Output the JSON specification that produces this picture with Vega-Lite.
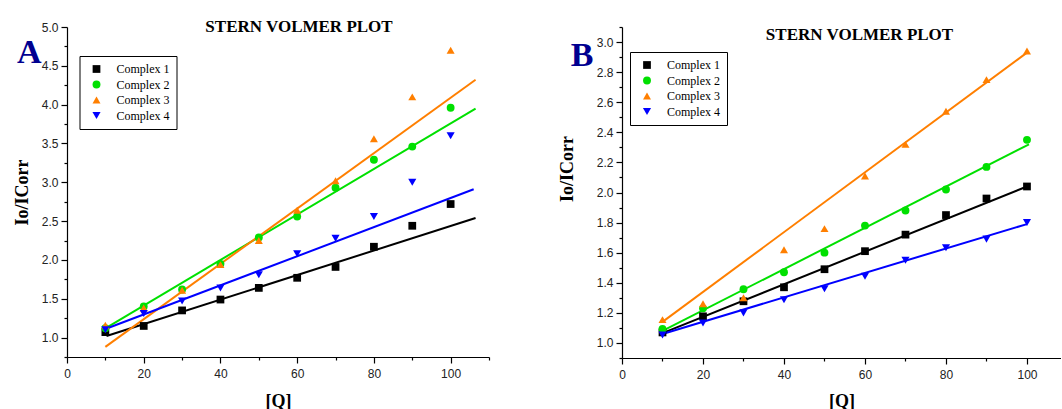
{
  "$schema": "https://vega.github.io/schema/vega-lite/v6.json",
  "padding": {"left": 13, "top": 18, "right": 0, "bottom": 0},
  "bounds": "flush",
  "spacing": 133,
  "background": "white",
  "resolve": {"scale": {"color": "independent", "shape": "independent", "size": "independent"}, "legend": {"color": "independent", "shape": "independent", "size": "independent"}},
  "config": {
    "view": {"stroke": null},
    "axis": {
      "grid": false,
      "labelFlush": false,
      "labelOverlap": false,
      "domainColor": "black",
      "domainWidth": 1.2,
      "tickColor": "black",
      "tickWidth": 1.2,
      "labelFont": "Liberation Sans",
      "labelFontSize": 12,
      "labelColor": "#222222",
      "titleFont": "Liberation Serif",
      "titleFontWeight": "bold",
      "titleColor": "black"
    },
    "legend": {
      "strokeColor": "black",
      "strokeWidth": 1,
      "fillColor": "white",
      "padding": 7,
      "labelFont": "Liberation Serif",
      "labelFontSize": 12,
      "labelColor": "black",
      "rowPadding": 3.5,
      "labelOffset": 14,
      "symbolOffset": 4
    },
    "title": {
      "font": "Liberation Serif",
      "fontSize": 17,
      "fontWeight": "bold",
      "color": "black",
      "anchor": "middle",
      "baseline": "alphabetic"
    }
  },
  "datasets": {
    "a_pts": [
      {"Q": 10, "ratio": 1.07, "complex": "Complex 1"},
      {"Q": 20, "ratio": 1.15, "complex": "Complex 1"},
      {"Q": 30, "ratio": 1.35, "complex": "Complex 1"},
      {"Q": 40, "ratio": 1.49, "complex": "Complex 1"},
      {"Q": 50, "ratio": 1.64, "complex": "Complex 1"},
      {"Q": 60, "ratio": 1.77, "complex": "Complex 1"},
      {"Q": 70, "ratio": 1.91, "complex": "Complex 1"},
      {"Q": 80, "ratio": 2.17, "complex": "Complex 1"},
      {"Q": 90, "ratio": 2.44, "complex": "Complex 1"},
      {"Q": 100, "ratio": 2.72, "complex": "Complex 1"},
      {"Q": 10, "ratio": 1.12, "complex": "Complex 2"},
      {"Q": 20, "ratio": 1.4, "complex": "Complex 2"},
      {"Q": 30, "ratio": 1.62, "complex": "Complex 2"},
      {"Q": 40, "ratio": 1.95, "complex": "Complex 2"},
      {"Q": 50, "ratio": 2.29, "complex": "Complex 2"},
      {"Q": 60, "ratio": 2.56, "complex": "Complex 2"},
      {"Q": 70, "ratio": 2.93, "complex": "Complex 2"},
      {"Q": 80, "ratio": 3.29, "complex": "Complex 2"},
      {"Q": 90, "ratio": 3.46, "complex": "Complex 2"},
      {"Q": 100, "ratio": 3.96, "complex": "Complex 2"},
      {"Q": 10, "ratio": 1.16, "complex": "Complex 3"},
      {"Q": 20, "ratio": 1.38, "complex": "Complex 3"},
      {"Q": 30, "ratio": 1.61, "complex": "Complex 3"},
      {"Q": 40, "ratio": 1.94, "complex": "Complex 3"},
      {"Q": 50, "ratio": 2.25, "complex": "Complex 3"},
      {"Q": 60, "ratio": 2.64, "complex": "Complex 3"},
      {"Q": 70, "ratio": 3.02, "complex": "Complex 3"},
      {"Q": 80, "ratio": 3.56, "complex": "Complex 3"},
      {"Q": 90, "ratio": 4.1, "complex": "Complex 3"},
      {"Q": 100, "ratio": 4.7, "complex": "Complex 3"},
      {"Q": 10, "ratio": 1.1, "complex": "Complex 4"},
      {"Q": 20, "ratio": 1.31, "complex": "Complex 4"},
      {"Q": 30, "ratio": 1.47, "complex": "Complex 4"},
      {"Q": 40, "ratio": 1.64, "complex": "Complex 4"},
      {"Q": 50, "ratio": 1.81, "complex": "Complex 4"},
      {"Q": 60, "ratio": 2.08, "complex": "Complex 4"},
      {"Q": 70, "ratio": 2.28, "complex": "Complex 4"},
      {"Q": 80, "ratio": 2.56, "complex": "Complex 4"},
      {"Q": 90, "ratio": 3.0, "complex": "Complex 4"},
      {"Q": 100, "ratio": 3.6, "complex": "Complex 4"}
    ],
    "a_fit": [
      {"Q": 10.3, "ratio": 1.02, "complex": "Complex 1"},
      {"Q": 106.5, "ratio": 2.54, "complex": "Complex 1"},
      {"Q": 10, "ratio": 1.12, "complex": "Complex 2"},
      {"Q": 106.5, "ratio": 3.95, "complex": "Complex 2"},
      {"Q": 10, "ratio": 0.88, "complex": "Complex 3"},
      {"Q": 106.5, "ratio": 4.32, "complex": "Complex 3"},
      {"Q": 10, "ratio": 1.11, "complex": "Complex 4"},
      {"Q": 106, "ratio": 2.91, "complex": "Complex 4"}
    ],
    "b_pts": [
      {"Q": 10, "ratio": 1.07, "complex": "Complex 1"},
      {"Q": 20, "ratio": 1.177, "complex": "Complex 1"},
      {"Q": 30, "ratio": 1.277, "complex": "Complex 1"},
      {"Q": 40, "ratio": 1.37, "complex": "Complex 1"},
      {"Q": 50, "ratio": 1.49, "complex": "Complex 1"},
      {"Q": 60, "ratio": 1.61, "complex": "Complex 1"},
      {"Q": 70, "ratio": 1.72, "complex": "Complex 1"},
      {"Q": 80, "ratio": 1.85, "complex": "Complex 1"},
      {"Q": 90, "ratio": 1.96, "complex": "Complex 1"},
      {"Q": 100, "ratio": 2.04, "complex": "Complex 1"},
      {"Q": 10, "ratio": 1.093, "complex": "Complex 2"},
      {"Q": 20, "ratio": 1.23, "complex": "Complex 2"},
      {"Q": 30, "ratio": 1.357, "complex": "Complex 2"},
      {"Q": 40, "ratio": 1.47, "complex": "Complex 2"},
      {"Q": 50, "ratio": 1.6, "complex": "Complex 2"},
      {"Q": 60, "ratio": 1.78, "complex": "Complex 2"},
      {"Q": 70, "ratio": 1.88, "complex": "Complex 2"},
      {"Q": 80, "ratio": 2.02, "complex": "Complex 2"},
      {"Q": 90, "ratio": 2.17, "complex": "Complex 2"},
      {"Q": 100, "ratio": 2.35, "complex": "Complex 2"},
      {"Q": 10, "ratio": 1.155, "complex": "Complex 3"},
      {"Q": 20, "ratio": 1.26, "complex": "Complex 3"},
      {"Q": 30, "ratio": 1.3, "complex": "Complex 3"},
      {"Q": 40, "ratio": 1.62, "complex": "Complex 3"},
      {"Q": 50, "ratio": 1.76, "complex": "Complex 3"},
      {"Q": 60, "ratio": 2.11, "complex": "Complex 3"},
      {"Q": 70, "ratio": 2.32, "complex": "Complex 3"},
      {"Q": 80, "ratio": 2.54, "complex": "Complex 3"},
      {"Q": 90, "ratio": 2.75, "complex": "Complex 3"},
      {"Q": 100, "ratio": 2.94, "complex": "Complex 3"},
      {"Q": 10, "ratio": 1.053, "complex": "Complex 4"},
      {"Q": 20, "ratio": 1.133, "complex": "Complex 4"},
      {"Q": 30, "ratio": 1.2, "complex": "Complex 4"},
      {"Q": 40, "ratio": 1.287, "complex": "Complex 4"},
      {"Q": 50, "ratio": 1.36, "complex": "Complex 4"},
      {"Q": 60, "ratio": 1.444, "complex": "Complex 4"},
      {"Q": 70, "ratio": 1.55, "complex": "Complex 4"},
      {"Q": 80, "ratio": 1.633, "complex": "Complex 4"},
      {"Q": 90, "ratio": 1.69, "complex": "Complex 4"},
      {"Q": 100, "ratio": 1.8, "complex": "Complex 4"}
    ],
    "b_fit": [
      {"Q": 10, "ratio": 1.065, "complex": "Complex 1"},
      {"Q": 100, "ratio": 2.04, "complex": "Complex 1"},
      {"Q": 10, "ratio": 1.08, "complex": "Complex 2"},
      {"Q": 100.5, "ratio": 2.32, "complex": "Complex 2"},
      {"Q": 10, "ratio": 1.14, "complex": "Complex 3"},
      {"Q": 100, "ratio": 2.93, "complex": "Complex 3"},
      {"Q": 10, "ratio": 1.06, "complex": "Complex 4"},
      {"Q": 100, "ratio": 1.79, "complex": "Complex 4"}
    ],
    "label_a": [{"label": "A"}],
    "label_b": [{"label": "B"}]
  },
  "hconcat": [
    {
      "width": 422,
      "height": 330,
      "title": {"text": "STERN VOLMER PLOT", "dx": 21, "offset": -15.4},
      "resolve": {"axis": {"x": "independent", "y": "independent"}},
      "layer": [
        {
          "data": {"name": "a_fit"},
          "transform": [{"filter": "datum.complex === 'Complex 1'"}],
          "mark": {"type": "line", "strokeWidth": 2, "color": "#000000"},
          "encoding": {
            "x": {"field": "Q", "type": "quantitative", "scale": {"domain": [0, 110], "nice": false, "zero": false},
              "axis": {"orient": "bottom", "values": [10, 30, 50, 70, 90, 110], "labels": false, "domain": false, "tickSize": 3, "title": null}},
            "y": {"field": "ratio", "type": "quantitative", "scale": {"domain": [0.75, 5.0], "nice": false, "zero": false},
              "axis": {"orient": "left", "values": [0.75, 1.25, 1.75, 2.25, 2.75, 3.25, 3.75, 4.25, 4.75], "labels": false, "domain": false, "tickSize": 3, "title": null}}
          }
        },
        {
          "data": {"name": "a_fit"},
          "transform": [{"filter": "datum.complex === 'Complex 2'"}],
          "mark": {"type": "line", "strokeWidth": 2, "color": "#00E000"},
          "encoding": {
            "x": {"field": "Q", "type": "quantitative", "axis": null},
            "y": {"field": "ratio", "type": "quantitative", "axis": null}
          }
        },
        {
          "data": {"name": "a_fit"},
          "transform": [{"filter": "datum.complex === 'Complex 3'"}],
          "mark": {"type": "line", "strokeWidth": 2, "color": "#FF7F00"},
          "encoding": {
            "x": {"field": "Q", "type": "quantitative", "axis": null},
            "y": {"field": "ratio", "type": "quantitative", "axis": null}
          }
        },
        {
          "data": {"name": "a_fit"},
          "transform": [{"filter": "datum.complex === 'Complex 4'"}],
          "mark": {"type": "line", "strokeWidth": 2, "color": "#0000FF"},
          "encoding": {
            "x": {"field": "Q", "type": "quantitative", "axis": null},
            "y": {"field": "ratio", "type": "quantitative", "axis": null}
          }
        },
        {
          "data": {"name": "a_pts"},
          "mark": {"type": "point", "filled": true, "opacity": 1},
          "encoding": {
            "x": {"field": "Q", "type": "quantitative", "scale": {"domain": [0, 110], "nice": false, "zero": false},
              "axis": {"orient": "bottom", "values": [0, 20, 40, 60, 80, 100], "tickSize": 6, "labelPadding": 5, "title": "[Q]", "titleFontSize": 18, "titleY": 35}},
            "y": {"field": "ratio", "type": "quantitative", "scale": {"domain": [0.75, 5.0], "nice": false, "zero": false},
              "axis": {"orient": "left", "values": [1, 1.5, 2, 2.5, 3, 3.5, 4, 4.5, 5], "format": ".1f", "tickSize": 6, "labelPadding": 3, "title": "Io/ICorr", "titleFontSize": 18, "titleX": -36, "titleY": 165}},
            "color": {"field": "complex", "type": "nominal",
              "scale": {"domain": ["Complex 1", "Complex 2", "Complex 3", "Complex 4"], "range": ["#000000", "#00E000", "#FF7F00", "#0000FF"]},
              "legend": {"title": null, "orient": "none", "legendX": 12.5, "legendY": 29}},
            "shape": {"field": "complex", "type": "nominal",
              "scale": {"domain": ["Complex 1", "Complex 2", "Complex 3", "Complex 4"], "range": ["square", "circle", "triangle-up", "triangle-down"]},
              "legend": {"title": null, "orient": "none", "legendX": 12.5, "legendY": 29}},
            "size": {"field": "complex", "type": "nominal", "legend": null,
              "scale": {"domain": ["Complex 1", "Complex 2", "Complex 3", "Complex 4"], "range": [60, 66, 100, 100]}}
          }
        },
        {
          "data": {"name": "label_a"},
          "mark": {"type": "text", "font": "Liberation Serif", "fontSize": 34, "fontWeight": "bold", "color": "#000090", "align": "center", "baseline": "alphabetic"},
          "encoding": {
            "x": {"datum": -9.8, "type": "quantitative", "axis": null},
            "y": {"datum": 4.536, "type": "quantitative", "axis": null},
            "text": {"field": "label"}
          }
        }
      ]
    },
    {
      "width": 439,
      "height": 331,
      "title": {"text": "STERN VOLMER PLOT", "dx": 18, "offset": -18},
      "resolve": {"axis": {"x": "independent", "y": "independent"}},
      "layer": [
        {
          "data": {"name": "b_fit"},
          "transform": [{"filter": "datum.complex === 'Complex 1'"}],
          "mark": {"type": "line", "strokeWidth": 2, "color": "#000000"},
          "encoding": {
            "x": {"field": "Q", "type": "quantitative", "scale": {"domain": [0, 108.4], "nice": false, "zero": false},
              "axis": {"orient": "bottom", "values": [10, 30, 50, 70, 90], "labels": false, "domain": false, "tickSize": 3, "title": null}},
            "y": {"field": "ratio", "type": "quantitative", "scale": {"domain": [0.9, 3.1], "nice": false, "zero": false},
              "axis": {"orient": "left", "values": [0.9, 1.1, 1.3, 1.5, 1.7, 1.9, 2.1, 2.3, 2.5, 2.7, 2.9, 3.1], "labels": false, "domain": false, "tickSize": 3, "title": null}}
          }
        },
        {
          "data": {"name": "b_fit"},
          "transform": [{"filter": "datum.complex === 'Complex 2'"}],
          "mark": {"type": "line", "strokeWidth": 2, "color": "#00E000"},
          "encoding": {
            "x": {"field": "Q", "type": "quantitative", "axis": null},
            "y": {"field": "ratio", "type": "quantitative", "axis": null}
          }
        },
        {
          "data": {"name": "b_fit"},
          "transform": [{"filter": "datum.complex === 'Complex 3'"}],
          "mark": {"type": "line", "strokeWidth": 2, "color": "#FF7F00"},
          "encoding": {
            "x": {"field": "Q", "type": "quantitative", "axis": null},
            "y": {"field": "ratio", "type": "quantitative", "axis": null}
          }
        },
        {
          "data": {"name": "b_fit"},
          "transform": [{"filter": "datum.complex === 'Complex 4'"}],
          "mark": {"type": "line", "strokeWidth": 2, "color": "#0000FF"},
          "encoding": {
            "x": {"field": "Q", "type": "quantitative", "axis": null},
            "y": {"field": "ratio", "type": "quantitative", "axis": null}
          }
        },
        {
          "data": {"name": "b_pts"},
          "mark": {"type": "point", "filled": true, "opacity": 1},
          "encoding": {
            "x": {"field": "Q", "type": "quantitative", "scale": {"domain": [0, 108.4], "nice": false, "zero": false},
              "axis": {"orient": "bottom", "values": [0, 20, 40, 60, 80, 100], "tickSize": 6, "labelPadding": 5, "title": "[Q]", "titleFontSize": 18, "titleY": 34}},
            "y": {"field": "ratio", "type": "quantitative", "scale": {"domain": [0.9, 3.1], "nice": false, "zero": false},
              "axis": {"orient": "left", "values": [1, 1.2, 1.4, 1.6, 1.8, 2, 2.2, 2.4, 2.6, 2.8, 3], "format": ".1f", "tickSize": 6, "labelPadding": 3, "title": "Io/ICorr", "titleFontSize": 18, "titleX": -46, "titleY": 141.5}},
            "color": {"field": "complex", "type": "nominal",
              "scale": {"domain": ["Complex 1", "Complex 2", "Complex 3", "Complex 4"], "range": ["#000000", "#00E000", "#FF7F00", "#0000FF"]},
              "legend": {"title": null, "orient": "none", "legendX": 8, "legendY": 25}},
            "shape": {"field": "complex", "type": "nominal",
              "scale": {"domain": ["Complex 1", "Complex 2", "Complex 3", "Complex 4"], "range": ["square", "circle", "triangle-up", "triangle-down"]},
              "legend": {"title": null, "orient": "none", "legendX": 8, "legendY": 25}},
            "size": {"field": "complex", "type": "nominal", "legend": null,
              "scale": {"domain": ["Complex 1", "Complex 2", "Complex 3", "Complex 4"], "range": [60, 66, 100, 100]}}
          }
        },
        {
          "data": {"name": "label_b"},
          "mark": {"type": "text", "font": "Liberation Serif", "fontSize": 34, "fontWeight": "bold", "color": "#000090", "align": "center", "baseline": "alphabetic"},
          "encoding": {
            "x": {"datum": -9.83, "type": "quantitative", "axis": null},
            "y": {"datum": 2.842, "type": "quantitative", "axis": null},
            "text": {"field": "label"}
          }
        }
      ]
    }
  ]
}
